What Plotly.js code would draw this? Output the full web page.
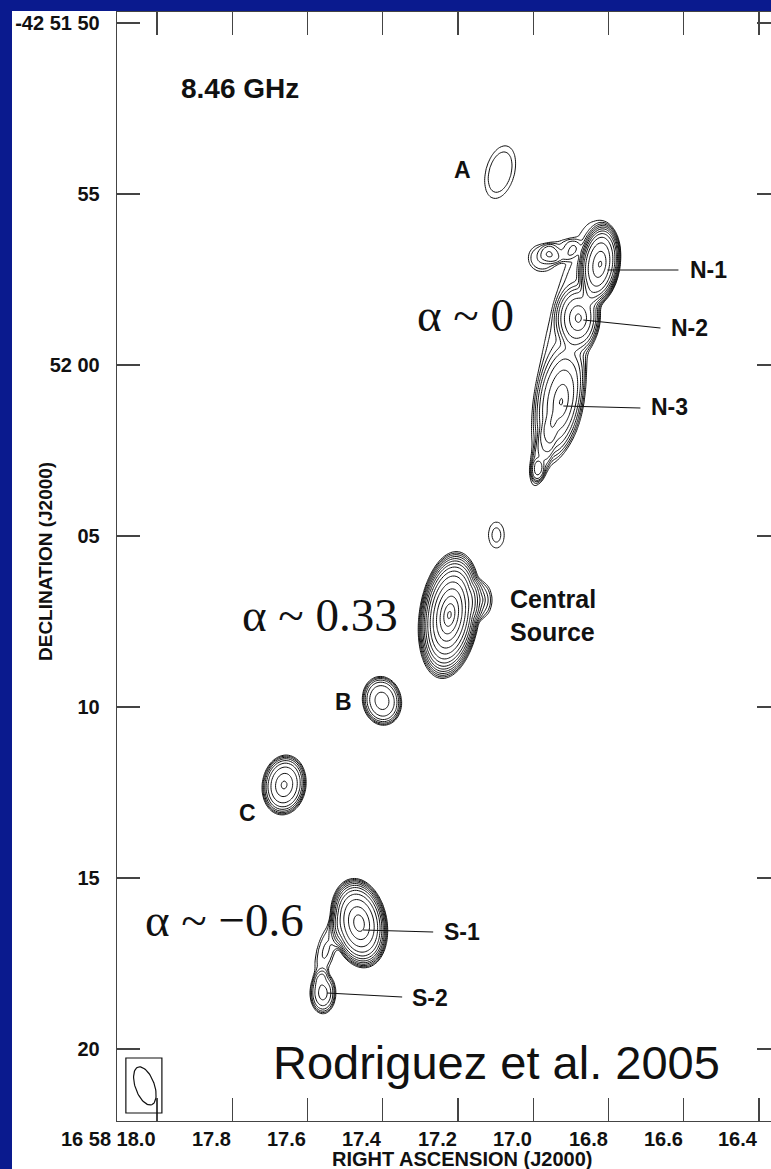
<!DOCTYPE html>
<html><head><meta charset="utf-8">
<script src="https://cdn.plot.ly/plotly-3.0.1.min.js"></script>
<style>
html,body{margin:0;padding:0;width:771px;height:1169px;overflow:hidden;background:#0a1a8e;}
#wrap{position:absolute;left:12px;top:11px;width:759px;height:1158px;background:#fff;overflow:hidden;}
#chart{width:778px;height:1158px;}
</style></head><body><div id="wrap"><div id="chart"></div></div>
<script>
// ---- axis ticks ----
const raTickVals  = [18.0, 17.8, 17.6, 17.4, 17.2, 17.0, 16.8, 16.6, 16.4];
const raTickText  = ['16 58 18.0', '17.8', '17.6', '17.4', '17.2', '17.0', '16.8', '16.6', '16.4'];
const decTickVals = [50, 55, 60, 65, 70, 75, 80];           // arcsec past -42 51 00
const decTickText = ['-42 51 50', '55', '52 00', '05', '10', '15', '20'];

// ---- emission components (RA s past 16 58, Dec arcsec past -42 51) ----
const compName    = ['A', 'knot', 'Central', 'Central-E', 'B', 'C', 'S-1', 'S-2', 'S-bridge',
                     'N-1', 'N-2', 'N-3', 'N-env', 'N-arm', 'N-neck', 'N-tail', 'N-knot'];
const compRA      = [17.088, 17.098, 17.223, 17.136, 17.402, 17.662, 17.463, 17.559, 17.551,
                     16.822, 16.880, 16.926, 16.912, 16.976, 16.928, 16.973, 16.989];
const compDec     = [54.36, 64.97, 67.31, 66.87, 69.82, 72.28, 76.32, 78.36, 77.11,
                     57.05, 58.63, 61.08, 59.42, 56.87, 56.64, 62.49, 63.07];
const compSemiX   = [0.42, 0.234, 0.88, 0.29, 0.57, 0.64, 0.82, 0.38, 0.26,
                     0.585, 0.60, 0.643, 0.643, 0.41, 0.42, 0.20, 0.146];  // arcsec
const compSemiY   = [0.79, 0.38, 1.87, 0.50, 0.72, 0.88, 1.32, 0.61, 0.76,
                     1.17, 0.85, 1.46, 3.65, 0.40, 0.26, 0.76, 0.234];     // arcsec
const compRot     = [15, 0, 8, 0, -10, 8, -10, 0, 15,
                     8, 0, 8, 12, 0, -15, 15, 0];                           // deg, + = top to the west
const compLogPeak = [0.16, 0.15, 1.45, 0.35, 0.7, 0.85, 1.2, 0.6, 0.25,
                     1.1, 0.75, 0.72, 0.22, 0.24, 0.12, 0.15, 0.2];         // log10 (peak / lowest contour)
const compEdge    = [0.7, 0.42, 0.42, 0.3, 0.6, 0.55, 0.55, 0.5, 0.4,
                     0.6, 0.35, 0.3, 0.6, 0.45, 0.5, 0.4, 0.3];

// ---- synthesized beam ----
const beamRA = [18.032], beamDec = [81.08], beamMaj = [0.585], beamMin = [0.278], beamPA = [-20];

const ARCSEC_PER_S = 10.99;

// grid
const gx = [], gy = [];
for (let v = 17.78; v >= 16.69; v -= 0.005) gx.push(+v.toFixed(4));
for (let v = 53.1; v <= 79.5; v += 0.06) gy.push(+v.toFixed(3));
const Z = gy.map(d => gx.map(r => {
  let s = 0;
  for (let k = 0; k < compRA.length; k++) {
    const dx = (compRA[k] - r) * ARCSEC_PER_S;
    const dy = d - compDec[k];
    const t = compRot[k] * Math.PI / 180;
    const u = dx * Math.cos(t) + dy * Math.sin(t);
    const w = dx * Math.sin(t) - dy * Math.cos(t);
    const rr = Math.sqrt((u / compSemiX[k]) ** 2 + (w / compSemiY[k]) ** 2);
    const e = compEdge[k];
    const lg = compLogPeak[k] * (1 - (1 - e) * rr - e * Math.pow(rr, 6));
    s += Math.pow(10, Math.max(lg, -12));
  }
  return Math.log10(s + 1e-12);
}));

// beam outline
const bx = [], by = [];
for (let i = 0; i <= 72; i++) {
  const a = i / 72 * 2 * Math.PI, t = beamPA[0] * Math.PI / 180;
  const u = beamMin[0] * Math.cos(a), w = beamMaj[0] * Math.sin(a);
  const dx = u * Math.cos(t) + w * Math.sin(t);
  const dy = u * Math.sin(t) - w * Math.cos(t);
  bx.push(beamRA[0] - dx / ARCSEC_PER_S);
  by.push(beamDec[0] + dy);
}

// pixel helpers for label placement
const px2ra = p => 18.0 - (p - 157) / 376;
const py2dec = p => 50 + (p - 23) / 34.2;
const pxp = p => (p - 117) / 663;
const pyp = p => 1 - (p - 12) / 1109;

const traces = [
  {type: 'contour', x: gx, y: gy, z: Z, showscale: false, hoverinfo: 'skip',
   contours: {coloring: 'lines', start: 0, end: 2.5, size: 0.1},
   colorscale: [[0, '#111'], [1, '#111']], line: {width: 1, smoothing: 1}},
  {type: 'scatter', mode: 'lines', x: bx, y: by, line: {color: '#111', width: 1.2},
   hoverinfo: 'skip', showlegend: false}
];

const lab = (text, px, py, anchor, size, fam) => ({
  x: px2ra(px), y: py2dec(py), xref: 'x', yref: 'y', text, showarrow: false,
  xanchor: anchor || 'left', yanchor: 'middle', align: 'left',
  font: {family: fam || 'Liberation Sans', size: size || 23, color: '#111'}
});
const line = (x0, y0, x1, y1) => ({type: 'line', xref: 'x', yref: 'y',
  x0: px2ra(x0), y0: py2dec(y0), x1: px2ra(x1), y1: py2dec(y1), line: {color: '#111', width: 1.2}});

const axisFont = {family: 'Liberation Sans', size: 20, color: '#111', weight: 'bold'};
const raLabels = raTickVals.map((v, i) => ({
  x: v, xref: 'x', y: pyp(1139), yref: 'paper', text: '<b>' + raTickText[i] + '</b>',
  showarrow: false, xanchor: 'right', yanchor: 'middle', xshift: 1,
  font: {family: 'Liberation Sans', size: 20, color: '#111'}
}));

const layout = {
  width: 778, height: 1158, margin: {l: 105, r: 10, t: 1, b: 48},
  paper_bgcolor: '#fff', plot_bgcolor: '#fff', showlegend: false,
  xaxis: {range: [18.106, 16.3445], tickvals: raTickVals, ticktext: raTickText, showticklabels: false,
    ticks: 'inside', ticklen: 23, tickwidth: 1.3, tickcolor: '#444',
    showline: true, linecolor: '#444', linewidth: 1.3, mirror: 'ticks',
    showgrid: false, zeroline: false},
  yaxis: {range: [82.105, 49.678], tickvals: decTickVals, ticktext: decTickText,
    ticks: 'inside', ticklen: 23, tickwidth: 1.3, tickcolor: '#444',
    showline: true, linecolor: '#444', linewidth: 1.3, mirror: 'ticks',
    showgrid: false, zeroline: false, tickfont: axisFont, ticklabelstandoff: 12},
  shapes: [
    line(607, 270, 678, 270), line(583, 320, 660, 328), line(563, 406, 640, 408),
    line(363, 930, 433, 932), line(327, 993, 402, 997),
    {type: 'rect', xref: 'x', yref: 'y', x0: px2ra(126), x1: px2ra(162), y0: py2dec(1058), y1: py2dec(1113),
     line: {color: '#111', width: 1.2}}
  ],
  annotations: raLabels.concat([
    lab('<b>8.46 GHz</b>', 179, 88, 'left', 28),
    lab('<b>A</b>', 462, 170, 'center'),
    lab('<b>N-1</b>', 688, 270), lab('<b>N-2</b>', 669, 328), lab('<b>N-3</b>', 649, 407),
    lab('<b>Central<br>Source</b>', 508, 615, 'left', 25),
    lab('<b>B</b>', 343, 702, 'center'), lab('<b>C</b>', 248, 813, 'center'),
    lab('<b>S-1</b>', 442, 932), lab('<b>S-2</b>', 410, 998),
    lab('α ~ 0', 415, 315, 'left', 47, 'Liberation Serif'),
    lab('α ~ 0.33', 240, 615, 'left', 47, 'Liberation Serif'),
    lab('α ~ −0.6', 143, 920, 'left', 47, 'Liberation Serif'),
    lab('Rodriguez et al. 2005', 271, 1062, 'left', 47),
    {xref: 'paper', yref: 'paper', x: pxp(462), y: pyp(1159), text: '<b>RIGHT ASCENSION (J2000)</b>',
     showarrow: false, xanchor: 'center', yanchor: 'middle', font: {family: 'Liberation Sans', size: 20, color: '#111'}},
    {xref: 'paper', yref: 'paper', x: pxp(45), y: pyp(562), text: '<b>DECLINATION (J2000)</b>', textangle: -90,
     showarrow: false, xanchor: 'center', yanchor: 'middle', font: {family: 'Liberation Sans', size: 19, color: '#111'}}
  ])
};
Plotly.newPlot('chart', traces, layout, {staticPlot: true});
</script></body></html>
